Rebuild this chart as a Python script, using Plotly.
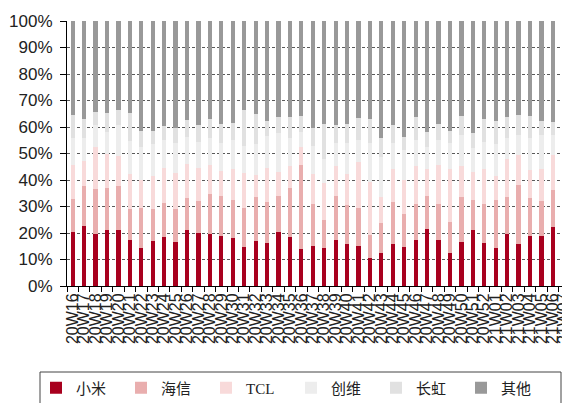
import plotly.graph_objects as go

weeks = ["20W16", "20W17", "20W18", "20W19", "20W20", "20W21", "20W22", "20W23", "20W24", "20W25",
         "20W26", "20W27", "20W28", "20W29", "20W30", "20W31", "20W32", "20W33", "20W34", "20W35",
         "20W36", "20W37", "20W38", "20W39", "20W40", "20W41", "20W42", "20W43", "20W44", "20W45",
         "20W46", "20W47", "20W48", "20W49", "20W50", "20W51", "20W52", "21W01", "21W02", "21W03",
         "21W04", "21W05", "21W06", "21W07"]

xiaomi = [20.2, 22.7, 19.5, 21.0, 21.0, 17.4, 14.4, 17.0, 18.5, 16.6, 21.0, 19.9, 19.5, 18.8, 18.1,
          14.7, 17.0, 16.2, 20.2, 18.5, 14.1, 15.1, 14.4, 17.4, 15.9, 15.1, 10.5, 12.6, 15.9, 14.7,
          17.4, 21.7, 17.4, 12.6, 16.6, 21.0, 16.2, 14.4, 19.5, 15.9, 18.8, 18.8, 22.4, 23.2]
hisense = [12.8, 15.0, 17.0, 15.9, 16.7, 11.8, 15.2, 12.0, 13.0, 12.6, 12.3, 12.0, 15.1, 15.1, 14.4,
           14.9, 16.5, 15.4, 13.8, 18.4, 31.5, 15.8, 10.4, 16.6, 14.6, 14.5, 8.9, 11.0, 15.7, 12.4,
           13.7, 12.3, 13.7, 11.6, 16.9, 11.6, 14.9, 18.2, 14.1, 22.1, 14.4, 13.1, 13.8, 12.6]
tcl = [12.6, 9.3, 16.0, 13.1, 11.4, 13.0, 10.3, 12.6, 13.0, 13.3, 12.9, 12.6, 11.0, 9.5, 11.5,
       12.9, 8.3, 12.9, 9.1, 8.4, 6.9, 11.2, 14.2, 11.2, 11.6, 17.2, 20.0, 9.8, 12.4, 12.8,
       14.2, 10.1, 14.5, 19.8, 11.7, 10.5, 13.0, 8.8, 14.5, 11.4, 10.5, 12.1, 13.2, 12.9]
skyworth = [10.3, 8.7, 8.2, 8.0, 11.7, 12.7, 12.6, 11.9, 10.5, 11.3, 10.2, 10.0, 10.3, 10.4, 11.0,
            10.5, 11.7, 12.2, 14.5, 10.4, 5.7, 10.9, 9.0, 8.8, 11.9, 8.2, 14.6, 15.3, 10.0, 11.4,
            9.7, 8.4, 9.4, 10.0, 11.8, 8.9, 10.4, 12.1, 7.9, 7.6, 12.3, 13.0, 7.6, 6.3]
changhong = [8.6, 7.5, 5.0, 7.4, 5.6, 10.5, 5.9, 4.9, 5.3, 5.9, 6.2, 6.2, 7.0, 7.3, 6.6,
             13.4, 11.4, 5.6, 6.2, 7.9, 5.9, 6.7, 13.3, 6.7, 7.1, 8.5, 8.9, 7.0, 6.7, 4.8,
             8.6, 5.7, 6.3, 4.6, 7.2, 5.8, 8.7, 8.7, 7.6, 7.5, 8.1, 5.3, 5.0, 5.1]
others = [35.5, 36.8, 34.3, 34.6, 33.6, 34.6, 41.6, 41.6, 39.7, 40.3, 37.4, 39.3, 37.1, 38.9, 38.4,
          33.6, 35.1, 37.7, 36.2, 36.4, 35.9, 40.3, 38.7, 39.3, 38.9, 36.5, 37.1, 44.3, 39.3, 43.9,
          36.4, 41.8, 38.7, 41.4, 35.8, 42.2, 36.8, 37.8, 36.4, 35.5, 35.9, 37.7, 38.0, 39.9]

y_ticks = [0, 10, 20, 30, 40, 50, 60, 70, 80, 90, 100]
y_tick_text = ["0%", "10%", "20%", "30%", "40%", "50%", "60%", "70%", "80%", "90%", "100%"]

brands = ["小米", "海信", "TCL", "创维", "长虹", "其他"]
series = [xiaomi, hisense, tcl, skyworth, changhong, others]
colors = ["#A8001E", "#E9AEAE", "#F8DADA", "#EDEDED", "#E1E1E1", "#999999"]

fig = go.Figure()
for name, vals, col in zip(brands, series, colors):
    fig.add_trace(go.Bar(x=weeks, y=vals, name=name, marker=dict(color=col, line=dict(width=0))))

# page body has an 8px margin: figure is 562x395 so it fills the 570x403 window
OFF = 8
W, H = 570 - OFF, 403 - OFF
ml, mr, mt, mb = 67 - OFF, 0, 21 - OFF, 117
pw = W - ml - mr
ph = H - mt - mb


def py(y_screen):
    return (mt + ph - (y_screen - OFF)) / ph


def px(x_screen):
    return ((x_screen - OFF) - ml) / pw


fig.update_layout(
    width=W, height=H,
    margin=dict(l=ml, r=mr, t=mt, b=mb, pad=0, autoexpand=False),
    barmode="stack",
    bargap=0.63,
    plot_bgcolor="white",
    paper_bgcolor="white",
    font=dict(family="Liberation Sans, Arial, sans-serif", color="#222222"),
    xaxis=dict(
        type="category",
        tickmode="array", tickvals=weeks, ticktext=weeks,
        tickangle=-90,
        tickson="boundaries",
        ticks="outside", ticklen=5, tickcolor="#000000",
        showline=True, linecolor="#000000", linewidth=1,
        showgrid=False,
        automargin=False,
        tickfont=dict(size=16, family="Liberation Sans, Arial, sans-serif", color="#222222"),
        range=[-0.5, len(weeks) - 0.5],
    ),
    yaxis=dict(
        range=[0, 100],
        tickmode="array", tickvals=y_ticks, ticktext=y_tick_text,
        ticks="outside", ticklen=6, tickcolor="#000000",
        showline=True, linecolor="#000000", linewidth=1,
        showgrid=True, gridcolor="#5a5a5a", gridwidth=1, griddash="3px,2px",
        zeroline=False,
        automargin=False,
        ticklabelstandoff=4,
        tickfont=dict(size=17, family="Liberation Sans, Arial, sans-serif", color="#222222"),
    ),
    legend=dict(
        orientation="h",
        x=px(36), xanchor="left",
        y=py(388), yanchor="middle",
        entrywidth=40, entrywidthmode="pixels",
        font=dict(size=15, family="Liberation Serif, Noto Sans CJK SC, serif", color="#222222"),
        bgcolor="rgba(0,0,0,0)",
        traceorder="normal",
    ),
    shapes=[dict(
        type="rect", xref="paper", yref="paper",
        x0=px(40), x1=px(561),
        y0=py(372), y1=py(420),
        line=dict(color="#444444", width=1), fillcolor="rgba(0,0,0,0)", layer="below",
    )],
)

fig.write_html("out.html")
